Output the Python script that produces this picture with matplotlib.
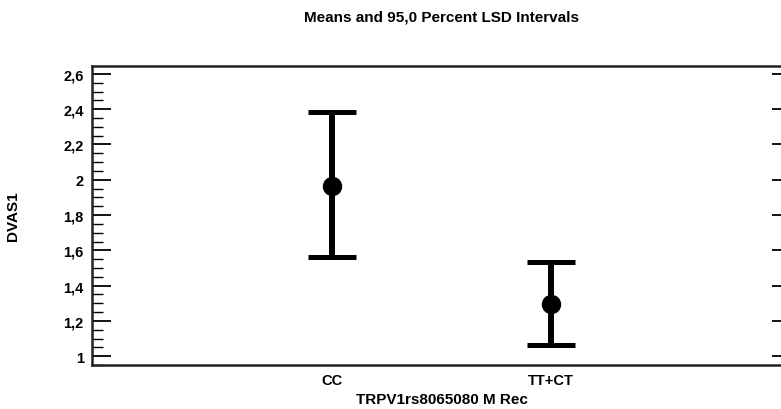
import matplotlib.pyplot as plt
from matplotlib.ticker import MultipleLocator

plt.rcParams['font.family'] = ['Liberation Sans', 'DejaVu Sans']
plt.rcParams['font.weight'] = 'bold'

# data
groups = ["CC", "TT+CT"]
means = [1.965, 1.295]
lower = [1.562, 1.062]
upper = [2.384, 1.533]
yticks = [1.0, 1.2, 1.4, 1.6, 1.8, 2.0, 2.2, 2.4, 2.6]
ytick_labels = ["1", "1,2", "1,4", "1,6", "1,8", "2", "2,2", "2,4", "2,6"]

fig = plt.figure(figsize=(7.81, 4.10), dpi=100)
ax = fig.add_axes([92 / 781, 1 - 366 / 410, (791 - 92) / 781, (366 - 67) / 410])

x = [1, 2]
err_lo = [m - l for m, l in zip(means, lower)]
err_hi = [u - m for m, u in zip(means, upper)]
ax.errorbar(x, means, yerr=[err_lo, err_hi], fmt='o', color='black',
            ecolor='black', elinewidth=4.3, capsize=17.6, capthick=3.6,
            markersize=13)

ax.set_xlim(-0.096, 3.096)
ax.set_ylim(0.95, 2.645)
ax.set_xticks(x)
ax.set_xticklabels(groups, fontsize=10.5, fontweight='bold')
ax.tick_params(axis='x', length=0, pad=6)

ax.set_yticks(yticks)
ax.set_yticklabels(ytick_labels, fontsize=10.5, fontweight='bold')
ax.yaxis.set_minor_locator(MultipleLocator(0.05))
ax.yaxis.set_ticks_position('both')
ax.tick_params(axis='y', which='major', direction='in', length=14, width=1.3, pad=6)
ax.tick_params(axis='y', which='minor', direction='in', length=8, width=1.0, right=False)

for s in ax.spines.values():
    s.set_linewidth(1.8)
    s.set_color('#222222')

ax.set_ylabel("DVAS1", fontsize=11, fontweight='bold')
ax.yaxis.set_label_coords(-0.103, 0.5)
ax.set_xlabel("TRPV1rs8065080 M Rec", fontsize=11, fontweight='bold')
ax.xaxis.set_label_coords((442 - 92) / 699, -0.09)
fig.text(442 / 781, 1 - 18 / 410, "Means and 95,0 Percent LSD Intervals",
         ha='center', va='center', fontsize=11, fontweight='bold')

fig.savefig("out.png", dpi=100)
